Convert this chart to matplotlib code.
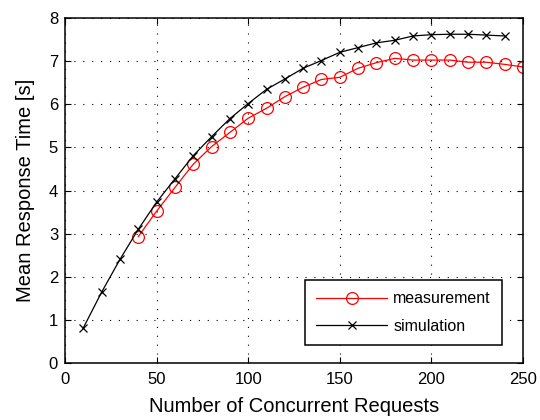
import matplotlib
matplotlib.use("Agg")
import matplotlib.pyplot as plt

plt.rcParams['font.family'] = ['Liberation Sans', 'DejaVu Sans']

meas_x = [40, 50, 60, 70, 80, 90, 100, 110, 120, 130, 140, 150, 160, 170, 180,
          190, 200, 210, 220, 230, 240, 250]
meas_y = [2.93, 3.52, 4.07, 4.61, 5.02, 5.35, 5.68, 5.91, 6.18, 6.40, 6.58, 6.63,
          6.84, 6.97, 7.07, 7.03, 7.03, 7.03, 6.98, 6.98, 6.93, 6.87]

sim_x = [10, 20, 30, 40, 50, 60, 70, 80, 90, 100, 110, 120, 130, 140, 150, 160,
         170, 180, 190, 200, 210, 220, 230, 240]
sim_y = [0.81, 1.64, 2.40, 3.10, 3.73, 4.27, 4.81, 5.25, 5.67, 6.02, 6.35, 6.59,
         6.84, 7.02, 7.21, 7.32, 7.43, 7.49, 7.59, 7.62, 7.63, 7.63, 7.61, 7.59]

x_ticks = [0, 50, 100, 150, 200, 250]
y_ticks = [0, 1, 2, 3, 4, 5, 6, 7, 8]

fig = plt.figure(figsize=(5.4, 4.2), dpi=100)
ax = fig.add_axes([0.1204, 0.1364, 0.8481, 0.8200])

ax.plot(meas_x, meas_y, color='red', lw=0.9, marker='o', ms=8.5,
        mfc='none', mec='red', mew=0.9, label='measurement')
ax.plot(sim_x, sim_y, color='black', lw=0.9, marker='x', ms=5.5,
        mec='black', mew=0.9, label='simulation')

ax.set_xlim(0, 250)
ax.set_ylim(0, 8)
ax.set_xticks(x_ticks)
ax.set_yticks(y_ticks)
ax.tick_params(direction='in', top=True, right=True, labelsize=12, length=4,
               width=0.8)
ax.tick_params(axis='x', pad=7)
ax.tick_params(axis='y', pad=5)
ax.grid(True, color='black', linestyle=(0, (1, 7)), linewidth=0.8)
for s in ax.spines.values():
    s.set_linewidth(1.1)

ax.set_xlabel('Number of Concurrent Requests', fontsize=14.5, labelpad=7)
ax.set_ylabel('Mean Response Time [s]', fontsize=14.5, labelpad=10)

leg = ax.legend(loc='lower right', bbox_to_anchor=(0.954, 0.051),
                borderaxespad=0, fontsize=11.5, handlelength=4.4,
                handletextpad=0.4, labelspacing=0.8, borderpad=0.7,
                fancybox=False, framealpha=1, edgecolor='black')
leg.get_frame().set_linewidth(1.1)

fig.savefig('out.png', dpi=100)
